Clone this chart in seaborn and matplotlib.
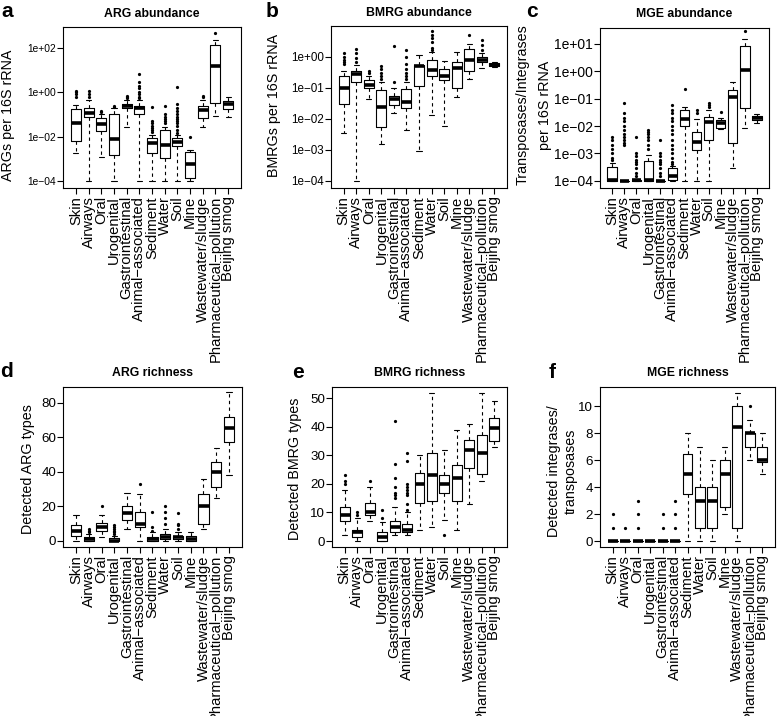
import numpy as np
import matplotlib
matplotlib.use("Agg")
import matplotlib.pyplot as plt
import seaborn as sns
from matplotlib.ticker import FixedLocator, FixedFormatter, NullLocator

categories = ["Skin", "Airways", "Oral", "Urogenital", "Gastrointestinal",
              "Animal\u2212associated", "Sediment", "Water", "Soil", "Mine",
              "Wastewater/sludge", "Pharmaceutical\u2212pollution", "Beijing smog"]

# ---- a: ARG abundance ----
arg_ab_q1 = [0.0066, 0.08, 0.018, 0.0015, 0.19, 0.1, 0.0018, 0.0011, 0.0037, 0.00014, 0.07, 0.33, 0.17]
arg_ab_med = [0.04, 0.12, 0.037, 0.0076, 0.24, 0.19, 0.005, 0.0042, 0.0059, 0.00056, 0.16, 15.5, 0.29]
arg_ab_q3 = [0.17, 0.2, 0.066, 0.1, 0.29, 0.23, 0.0083, 0.019, 0.0083, 0.0021, 0.24, 141, 0.4]
arg_ab_lo = [0.0018, 1e-4, 0.00125, 1e-4, 0.028, 1e-4, 1e-4, 1e-4, 1e-4, 1e-4, 0.028, 0.085, 0.074]
arg_ab_hi = [0.26, 0.45, 0.11, 0.2, 0.47, 0.45, 0.012, 0.028, 0.012, 0.0024, 0.45, 237, 0.63]
arg_ab_out = [[0.6, 0.8, 1.0, 1.2], [0.6, 0.8, 1.2], [0.13, 0.15], [0.22, 0.25], [0.55, 0.6, 0.65],
              [0.55, 0.6, 0.8, 1.0, 1.5, 2, 3, 7], [0.016, 0.02, 0.025, 0.03, 0.04, 0.05, 0.22],
              [0.04, 0.05, 0.06, 0.08, 0.1, 0.24],
              [0.015, 0.02, 0.03, 0.04, 0.05, 0.06, 0.08, 0.1, 0.15, 0.2, 0.3, 1.75],
              [0.0098], [0.6, 0.65], [490], []]

# ---- b: BMRG abundance ----
bmrg_ab_q1 = [0.031, 0.15, 0.1, 0.0055, 0.029, 0.022, 0.118, 0.24, 0.185, 0.1, 0.36, 0.67, 0.5]
bmrg_ab_med = [0.1, 0.29, 0.127, 0.025, 0.044, 0.034, 0.52, 0.39, 0.25, 0.44, 0.82, 0.82, 0.56]
bmrg_ab_q3 = [0.25, 0.36, 0.18, 0.083, 0.053, 0.092, 0.56, 0.78, 0.41, 0.67, 1.8, 1.0, 0.64]
bmrg_ab_lo = [0.0035, 1e-4, 0.045, 0.0016, 0.016, 0.0045, 0.0009, 0.0136, 0.006, 0.05, 0.19, 0.44, 0.46]
bmrg_ab_hi = [0.35, 0.56, 0.25, 0.16, 0.1, 0.16, 1.13, 1.4, 0.72, 1.4, 2.6, 1.35, 0.7]
bmrg_ab_out = [[0.6, 0.7, 0.8, 1.0, 1.3], [0.7, 0.9, 1.3, 1.8], [0.3, 0.35], [0.2, 0.25, 0.3, 0.4, 0.5],
               [0.16, 2.2], [0.2, 0.25, 0.3, 0.4, 0.6, 1.0, 1.7], [], [1.7, 2, 3, 4, 5, 6.7], [], [],
               [5.3], [1.7, 2.5, 3.5], []]

# ---- c: MGE abundance ----
mge_ab_q1 = [1e-4, 1e-4, 1e-4, 1e-4, 1e-4, 1.1e-4, 0.0105, 0.0013, 0.0032, 0.0085, 0.0025, 0.046, 0.016]
mge_ab_med = [1.05e-4, 1e-4, 1.05e-4, 1.05e-4, 1e-4, 1.5e-4, 0.018, 0.0027, 0.014, 0.013, 0.115, 1.1, 0.02]
mge_ab_q3 = [3.3e-4, 1e-4, 1.1e-4, 5.4e-4, 1e-4, 2.9e-4, 0.04, 0.006, 0.021, 0.016, 0.21, 8.2, 0.024]
mge_ab_lo = [1e-4, 1e-4, 1e-4, 1e-4, 1e-4, 1e-4, 1e-4, 1e-4, 1e-4, 0.008, 2.9e-4, 0.0085, 0.013]
mge_ab_hi = [4.5e-4, 1e-4, 1.2e-4, 9e-4, 1e-4, 3.5e-4, 0.05, 0.018, 0.04, 0.019, 0.4, 15, 0.028]
mge_ab_out = [[6e-4, 7e-4, 1e-3, 1.5e-3, 2e-3, 3e-3, 4e-3],
              [0.002, 0.0025, 0.003, 0.004, 0.005, 0.007, 0.01, 0.015, 0.02, 0.03, 0.07],
              [1.5e-4, 2e-4, 3e-4, 4e-4, 5e-4, 6e-4, 8e-4, 1e-3, 4e-3],
              [1.5e-3, 2e-3, 3e-3, 4e-3, 5e-3, 6e-3, 7e-3],
              [1.5e-4, 2e-4, 3e-4, 4e-4, 5e-4, 6e-4, 8e-4, 1e-3, 3e-3],
              [4e-4, 5e-4, 7e-4, 1e-3, 1.5e-3, 2e-3, 3e-3, 5e-3, 7e-3, 0.01, 0.015, 0.02, 0.03, 0.04, 0.06],
              [0.22], [0.03, 0.04], [0.05, 0.06, 0.07], [0.032], [], [29], []]

# ---- d: ARG richness ----
arg_ri_q1 = [3, 0, 6, 0, 12, 8, 0, 1, 1, 0, 10, 31, 57]
arg_ri_med = [6, 1, 8, 0, 16, 10, 1, 2, 2, 1, 20, 40, 65.5]
arg_ri_q3 = [9, 2, 10.5, 1.5, 20, 17, 2, 4, 3, 3, 27, 45.5, 72]
arg_ri_lo = [0, 0, 2.5, 0, 7, 0, 0, 0, 0, 0, 7, 25, 38]
arg_ri_hi = [15, 4, 15, 3, 28, 27, 5, 7, 5, 5, 36, 54, 86]
arg_ri_out = [[], [5, 6, 7], [20], [4, 5, 6, 7, 8, 9], [], [33], [6, 8, 17], [10, 13, 17, 20],
              [7, 9, 10, 16], [], [], [], []]

# ---- e: BMRG richness ----
bmrg_ri_q1 = [7, 1.5, 9, 0, 3, 3, 13.5, 14, 17, 14, 25.5, 23.5, 35]
bmrg_ri_med = [9, 3, 10, 1.5, 5, 4, 20, 23, 20, 22, 32, 31, 39.5]
bmrg_ri_q3 = [12, 4, 13.5, 3, 7, 6, 24, 31, 23, 26.5, 35.5, 37, 43]
bmrg_ri_lo = [2, 0, 7, 0, 2, 2, 4, 5, 7.5, 4, 13, 21, 33]
bmrg_ri_hi = [18, 8, 19, 6.5, 12, 10, 30, 52, 32, 39, 41, 52, 49]
bmrg_ri_out = [[20, 21, 23], [9, 10], [21], [8, 11], [15, 16, 17, 19, 22, 27, 42],
               [11, 13, 16, 17, 18, 19, 20, 28, 31], [], [], [2], [], [], [], []]

# ---- f: MGE richness ----
mge_ri_q1 = [0, 0, 0, 0, 0, 0, 3.5, 1, 1, 2.5, 1, 7, 5.9]
mge_ri_med = [0, 0, 0, 0, 0, 0, 5, 3, 3, 5, 8.5, 8, 6]
mge_ri_q3 = [0, 0, 0, 0, 0, 0, 6.5, 4, 4, 6, 10, 8, 7]
mge_ri_lo = [0, 0, 0, 0, 0, 0, 0, 0, 0, 2, 0, 6, 5]
mge_ri_hi = [0, 0, 0, 0, 0, 0, 8, 7, 6, 7, 11, 9, 8]
mge_ri_out = [[1, 2], [1], [1, 2, 3], [], [1, 2], [1, 2, 3], [], [], [], [], [], [10], []]

sns.set_theme(style="ticks")
plt.rcParams['font.family'] = ['Liberation Sans', 'DejaVu Sans']
plt.rcParams['axes.edgecolor'] = 'black'
plt.rcParams['axes.linewidth'] = 0.8

W, H = 778, 716
fig = plt.figure(figsize=(W / 100, H / 100), dpi=100)


def px_axes(l, t, r, b):
    return fig.add_axes([l / W, 1 - b / H, (r - l) / W, (b - t) / H])


def draw(ax, q1, med, q3, lo, hi, out):
    stats = []
    for i, c in enumerate(categories):
        stats.append(dict(med=med[i], q1=q1[i], q3=q3[i], whislo=lo[i], whishi=hi[i],
                          fliers=out[i], label=c))
    ax.bxp(stats, positions=np.arange(1, len(categories) + 1), widths=0.8,
           patch_artist=False,
           boxprops=dict(color='black', lw=0.8),
           medianprops=dict(color='black', lw=2.6, solid_capstyle='butt'),
           whiskerprops=dict(color='black', lw=0.8, linestyle=(0, (3, 3))),
           capprops=dict(color='black', lw=0.8),
           flierprops=dict(marker='o', markersize=1.3, markerfacecolor='black',
                           markeredgecolor='black', linestyle='none'))
    ax.set_xlim(-0.02, len(categories) + 1.02)


panels = [
    dict(box=(63, 27, 241, 188), data=(arg_ab_q1, arg_ab_med, arg_ab_q3, arg_ab_lo, arg_ab_hi, arg_ab_out),
         log=True, ylim=(10 ** -4.32, 10 ** 2.95), ticks=[1e-4, 1e-2, 1, 1e2],
         tlabels=["1e\u221204", "1e\u221202", "1e+00", "1e+02"], tsize=7.4,
         title="ARG abundance", letter="a", lpos=(1, 17), ylab=["ARGs per 16S rRNA"], ylx=[8], yly=115,
         tpad=7),
    dict(box=(331, 26, 507, 188), data=(bmrg_ab_q1, bmrg_ab_med, bmrg_ab_q3, bmrg_ab_lo, bmrg_ab_hi, bmrg_ab_out),
         log=True, ylim=(10 ** -4.23, 10 ** 1.0), ticks=[1e-4, 1e-3, 1e-2, 1e-1, 1],
         tlabels=["1e\u221204", "1e\u221203", "1e\u221202", "1e\u221201", "1e+00"], tsize=8.4,
         title="BMRG abundance", letter="b", lpos=(266, 17), ylab=["BMRGs per 16S rRNA"], ylx=[274], yly=105,
         tpad=7),
    dict(box=(600, 28, 769, 188), data=(mge_ab_q1, mge_ab_med, mge_ab_q3, mge_ab_lo, mge_ab_hi, mge_ab_out),
         log=True, ylim=(10 ** -4.26, 10 ** 1.58), ticks=[1e-4, 1e-3, 1e-2, 1e-1, 1, 10],
         tlabels=["1e\u221204", "1e\u221203", "1e\u221202", "1e\u221201", "1e+00", "1e+01"], tsize=10,
         title="MGE abundance", letter="c", lpos=(526, 17),
         ylab=["Transposases/Integrases", "per 16S rRNA"], ylx=[523, 545], yly=105,
         tpad=8),
    dict(box=(63, 387, 242, 547), data=(arg_ri_q1, arg_ri_med, arg_ri_q3, arg_ri_lo, arg_ri_hi, arg_ri_out),
         log=False, ylim=(-3.5, 89.1), ticks=[0, 20, 40, 60, 80],
         tlabels=["0", "20", "40", "60", "80"], tsize=9.6,
         title="ARG richness", letter="d", lpos=(0, 377), ylab=["Detected ARG types"], ylx=[28], yly=469,
         tpad=8),
    dict(box=(332, 387, 507, 547), data=(bmrg_ri_q1, bmrg_ri_med, bmrg_ri_q3, bmrg_ri_lo, bmrg_ri_hi, bmrg_ri_out),
         log=False, ylim=(-2.1, 54), ticks=[0, 10, 20, 30, 40, 50],
         tlabels=["0", "10", "20", "30", "40", "50"], tsize=9.6,
         title="BMRG richness", letter="e", lpos=(292, 378), ylab=["Detected BMRG types"], ylx=[295], yly=469,
         tpad=8),
    dict(box=(600, 387, 775, 547), data=(mge_ri_q1, mge_ri_med, mge_ri_q3, mge_ri_lo, mge_ri_hi, mge_ri_out),
         log=False, ylim=(-0.44, 11.44), ticks=[0, 2, 4, 6, 8, 10],
         tlabels=["0", "2", "4", "6", "8", "10"], tsize=9.6,
         title="MGE richness", letter="f", lpos=(549, 378),
         ylab=["Detected integrases/", "transposases"], ylx=[554, 571], yly=471,
         tpad=8),
]

for p in panels:
    ax = px_axes(*p["box"])
    if p["log"]:
        ax.set_yscale("log")
    draw(ax, *p["data"])
    ax.set_ylim(*p["ylim"])
    ax.yaxis.set_major_locator(FixedLocator(p["ticks"]))
    ax.yaxis.set_major_formatter(FixedFormatter(p["tlabels"]))
    ax.yaxis.set_minor_locator(NullLocator())
    ax.set_xticks(np.arange(1, len(categories) + 1))
    ax.set_xticklabels(categories, rotation=90, fontsize=10.6, color='black')
    ax.tick_params(axis='y', direction='out', length=4, width=0.8, pad=1,
                   labelsize=p["tsize"], colors='black')
    ax.tick_params(axis='x', direction='out', length=4.3, width=0.8, pad=1.5, colors='black')
    for s in ax.spines.values():
        s.set_visible(True)
        s.set_color('black')
        s.set_linewidth(0.8)
    ax.set_title(p["title"], fontsize=8.8, fontweight='bold', pad=p["tpad"], color='black')
    fig.text(p["lpos"][0] / W, 1 - p["lpos"][1] / H, p["letter"], fontsize=15,
             fontweight='bold', ha='left', va='baseline', color='black')
    for lab, x in zip(p["ylab"], p["ylx"]):
        fig.text(x / W, 1 - p["yly"] / H, lab, rotation=90, fontsize=10.3,
                 ha='center', va='center', color='black')

fig.savefig("out.png", dpi=100)
